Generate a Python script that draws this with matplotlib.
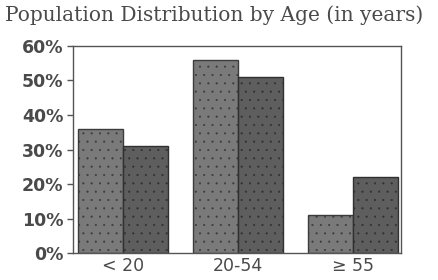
import matplotlib.pyplot as plt
import numpy as np

plt.rcParams["hatch.linewidth"] = 0.3

# ------------------------------
# Data
# ------------------------------
age_groups = ["< 20", "20-54", "\u2265 55"]
series_a = [36, 56, 11]
series_b = [31, 51, 22]
y_ticks = [0, 10, 20, 30, 40, 50, 60]

text_color = "#4a4a4a"

fig = plt.figure(figsize=(4.38, 2.8), dpi=100)
ax = fig.add_axes([0.167, 0.096, 0.748, 0.740])

x = np.arange(len(age_groups))
w = 0.39
ax.bar(x - w / 2, series_a, width=w, color="#7a7a7a", edgecolor="#3c3c3c",
       linewidth=1.0, hatch="..", zorder=2)
ax.bar(x + w / 2, series_b, width=w, color="#5e5e5e", edgecolor="#303030",
       linewidth=1.0, hatch="..", zorder=2)

ax.set_xlim(-0.43, 2.41)
ax.set_ylim(0, 60)
ax.set_yticks(y_ticks)
ax.set_yticklabels([f"{v}%" for v in y_ticks], fontsize=12.5,
                   fontweight="bold", color=text_color, family="DejaVu Sans")
ax.set_xticks(x)
ax.set_xticklabels(age_groups, fontsize=12.5, color=text_color,
                   family="DejaVu Sans")
ax.tick_params(axis="x", length=0, pad=3)
ax.tick_params(axis="y", length=4, width=1, color="#555555", pad=3)

for s in ax.spines.values():
    s.set_color("#555555")
    s.set_linewidth(1.0)

fig.text(0.012, 0.945, "Population Distribution by Age (in years)",
         fontsize=14.5, family="DejaVu Serif", color=text_color, va="center")

fig.savefig("out.png", dpi=100, facecolor="white")
